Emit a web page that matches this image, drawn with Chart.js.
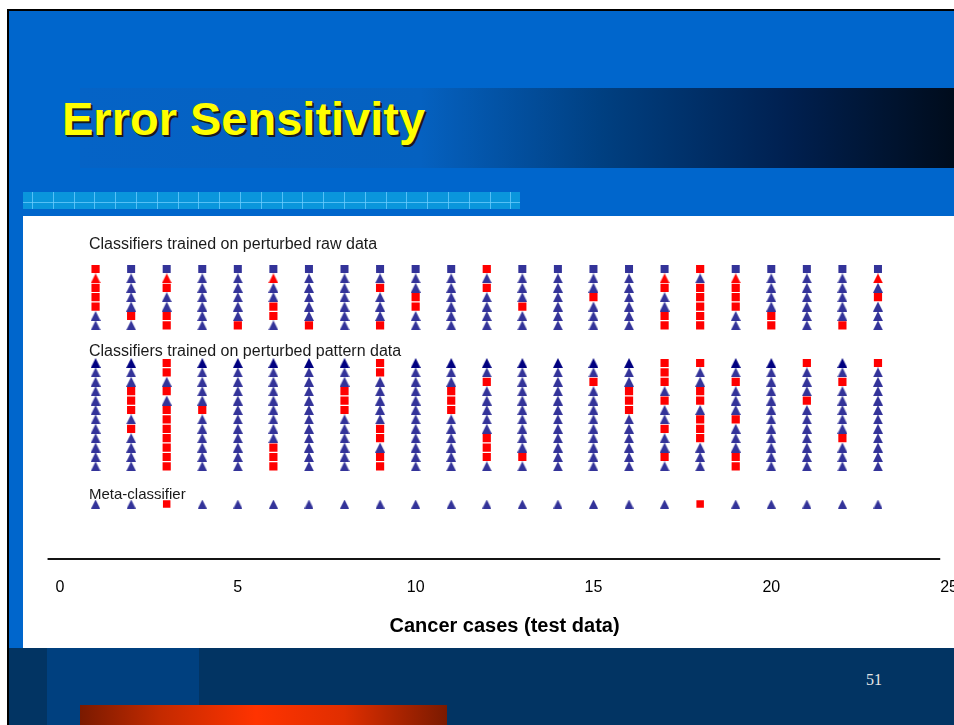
<!DOCTYPE html>
<html>
<head>
<meta charset="utf-8">
<title>Error Sensitivity</title>
<script src="https://cdn.jsdelivr.net/npm/chart.js@4.4.0/dist/chart.umd.min.js"></script>
<style>
  html, body { margin: 0; padding: 0; width: 954px; height: 725px; overflow: hidden; background: #fff; }
  body { position: relative; font-family: "Liberation Sans", Arial, sans-serif; }
  .abs { position: absolute; }
  #slideBg { left: 9px; top: 11px; width: 945px; height: 714px; background: #0066cc; }
  #borderLeft { left: 7px; top: 9px; width: 2px; height: 716px; background: #000; }
  #borderTop { left: 7px; top: 9px; width: 947px; height: 2px; background: #000; }
  #titleBand { left: 80px; top: 88px; width: 874px; height: 80px;
    background: linear-gradient(to right, #0563c6 0%, #0561c0 39%, #003f80 60%, #002050 81%, #000c1c 100%); }
  #title { left: 62px; top: 95px; margin: 0; font-size: 47px; line-height: 47px; font-weight: bold;
    color: #ffff00; text-shadow: 2px 2px 0 #1a1a1a, 1px 1px 0 #333; white-space: nowrap; }
  #strip { left: 23px; top: 192px; width: 497px; height: 17px;
    background:
      linear-gradient(to bottom, transparent 10px, rgba(110,205,255,0.75) 10px, rgba(110,205,255,0.75) 11px, transparent 11px),
      repeating-linear-gradient(to right, transparent 0 9px, rgba(110,205,255,0.75) 9px 10px, transparent 10px 20.8px),
      #0a96dc; }
  #panel { left: 23px; top: 216px; width: 931px; height: 432px; background: #fff; }
  #footDark { left: 9px; top: 648px; width: 945px; height: 77px; background: #023463; }
  #footLight { left: 47px; top: 648px; width: 152px; height: 77px; background: #00407f; }
  #footBar { left: 80px; top: 705px; width: 367px; height: 20px;
    background: linear-gradient(to right, #7a1a00 0%, #c42a00 22%, #ff3300 48%, #e02e00 72%, #7a1a00 100%); }
  #pageNo { left: 866px; top: 672px; font-family: "Liberation Serif", "Times New Roman", serif; font-size: 16px;
    line-height: 16px; color: #e6e6e6; }
  .rowLabel { color: #1a1a1a; white-space: nowrap; }
  #lblRaw { left: 89px; top: 235.5px; font-size: 16px; line-height: 16px; }
  #lblPattern { left: 89px; top: 343px; font-size: 16px; line-height: 16px; }
  #lblMeta { left: 89px; top: 485.6px; font-size: 15px; line-height: 15px; }
  #chart { position: absolute; left: 23px; top: 216px; }
</style>
</head>
<body>
<div id="slideBg" class="abs"></div>
<div id="titleBand" class="abs"></div>
<h1 id="title" class="abs">Error Sensitivity</h1>
<div id="strip" class="abs"></div>
<div id="panel" class="abs"></div>
<div id="footDark" class="abs"></div>
<div id="footLight" class="abs"></div>
<div id="footBar" class="abs"></div>
<div id="borderLeft" class="abs"></div>
<div id="borderTop" class="abs"></div>
<div id="pageNo" class="abs">51</div>

<canvas id="chart" width="954" height="432"></canvas>

<div id="lblRaw" class="abs rowLabel">Classifiers trained on perturbed raw data</div>
<div id="lblPattern" class="abs rowLabel">Classifiers trained on perturbed pattern data</div>
<div id="lblMeta" class="abs rowLabel">Meta-classifier</div>

<script>
// Test cases along the x axis
const caseNumbers = [1, 2, 3, 4, 5, 6, 7, 8, 9, 10, 11, 12, 13, 14, 15, 16, 17, 18, 19, 20, 21, 22, 23];
const xTickValues = [0, 5, 10, 15, 20, 25];

// Misclassified cases for each classifier trained on perturbed raw data (top row first)
const rawDataErrors = [
  [1, 12, 18],
  [1, 3, 6, 17, 19, 23],
  [1, 3, 9, 12, 17, 18, 19],
  [1, 10, 15, 18, 19, 23],
  [1, 6, 10, 13, 18, 19],
  [2, 3, 6, 17, 18, 20],
  [3, 5, 7, 9, 17, 18, 20, 22]
];

// Misclassified cases for each classifier trained on perturbed pattern data (top row first)
const patternDataErrors = [
  [3, 9, 17, 18, 21, 23],
  [3, 9, 17],
  [12, 15, 17, 19, 22],
  [2, 3, 8, 11, 16, 18],
  [2, 8, 11, 16, 17, 18, 21],
  [2, 3, 4, 8, 11, 16],
  [3, 18, 19],
  [2, 3, 9, 17, 18],
  [3, 9, 12, 18, 22],
  [3, 6, 12],
  [3, 6, 9, 12, 13, 17, 19],
  [3, 6, 9, 19]
];

// Misclassified cases for the meta-classifier
const metaErrors = [3, 18];

// Vertical placement of the three groups of rows
const RAW_TOP = 25;
const PATTERN_TOP = 15;
const META_ROW = 0;

const BLUE = '#333399';
const NAVY = '#000080';
const RED = '#ff0000';

function triangleMarker(color, w, h) {
  const c = document.createElement('canvas');
  c.width = w; c.height = h;
  const g = c.getContext('2d');
  g.fillStyle = color;
  g.beginPath();
  g.moveTo(w / 2, 0);
  g.lineTo(w, h);
  g.lineTo(0, h);
  g.closePath();
  g.fill();
  return c;
}

const triBlue = triangleMarker(BLUE, 10, 10);
const triNavy = triangleMarker(NAVY, 10, 10);
const triRed = triangleMarker(RED, 10, 10);
const triMeta = triangleMarker(BLUE, 9, 9);

// Collect the points of a set of rows, either the misclassified or the correct ones
function rowPoints(errorRows, topY, rowIndexes, wantErrors) {
  const pts = [];
  rowIndexes.forEach(r => {
    const errs = errorRows[r];
    caseNumbers.forEach(c => {
      if (errs.includes(c) === wantErrors) pts.push({ x: c, y: topY - r });
    });
  });
  return pts;
}

const rawAll = rawDataErrors.map((_, i) => i);
const patAll = patternDataErrors.map((_, i) => i);
const rawTriRows = rawAll.filter(i => i > 0);
const rawSquareErrRows = rawAll.filter(i => i !== 1);
const patRest = patAll.filter(i => i > 0);

const base = { showLine: false, borderWidth: 0 };

const datasets = [
  Object.assign({ label: 'raw errors (triangle)', data: rowPoints(rawDataErrors, RAW_TOP, [1], true),
    pointStyle: triRed, pointRadius: 5, backgroundColor: RED, borderColor: RED }, base),
  Object.assign({ label: 'raw errors', data: rowPoints(rawDataErrors, RAW_TOP, rawSquareErrRows, true),
    pointStyle: 'rect', pointRadius: 5.8, backgroundColor: RED, borderColor: RED }, base),
  Object.assign({ label: 'pattern errors', data: rowPoints(patternDataErrors, PATTERN_TOP, patAll, true),
    pointStyle: 'rect', pointRadius: 5.8, backgroundColor: RED, borderColor: RED }, base),
  Object.assign({ label: 'meta errors', data: metaErrors.map(c => ({ x: c, y: META_ROW })),
    pointStyle: 'rect', pointRadius: 5.3, backgroundColor: RED, borderColor: RED }, base),
  Object.assign({ label: 'raw correct (first)', data: rowPoints(rawDataErrors, RAW_TOP, [0], false),
    pointStyle: 'rect', pointRadius: 5.66, backgroundColor: BLUE, borderColor: BLUE }, base),
  Object.assign({ label: 'raw correct', data: rowPoints(rawDataErrors, RAW_TOP, rawTriRows, false),
    pointStyle: triBlue, pointRadius: 5, backgroundColor: BLUE, borderColor: BLUE }, base),
  Object.assign({ label: 'pattern correct (first)', data: rowPoints(patternDataErrors, PATTERN_TOP, [0], false),
    pointStyle: triNavy, pointRadius: 5, backgroundColor: NAVY, borderColor: NAVY }, base),
  Object.assign({ label: 'pattern correct', data: rowPoints(patternDataErrors, PATTERN_TOP, patRest, false),
    pointStyle: triBlue, pointRadius: 5, backgroundColor: BLUE, borderColor: BLUE }, base),
  Object.assign({ label: 'meta correct', data: caseNumbers.filter(c => !metaErrors.includes(c)).map(c => ({ x: c, y: META_ROW })),
    pointStyle: triMeta, pointRadius: 5, backgroundColor: BLUE, borderColor: BLUE }, base)
];

// Horizontal axis line, a little wider than the plotted range
const axisLine = {
  id: 'axisLine',
  afterDatasetsDraw(chart) {
    const { ctx, chartArea, scales } = chart;
    const x = scales.x;
    ctx.save();
    ctx.strokeStyle = '#141414';
    ctx.lineWidth = 2;
    ctx.beginPath();
    ctx.moveTo(x.getPixelForValue(-0.35), chartArea.bottom);
    ctx.lineTo(x.getPixelForValue(24.75), chartArea.bottom);
    ctx.stroke();
    ctx.restore();
  }
};

new Chart(document.getElementById('chart'), {
  type: 'scatter',
  data: { datasets },
  options: {
    responsive: false,
    animation: false,
    events: [],
    devicePixelRatio: 1,
    layout: { padding: { left: 37, right: 19, top: 43.6, bottom: 0 } },
    plugins: { legend: { display: false }, tooltip: { enabled: false } },
    scales: {
      x: {
        type: 'linear',
        min: 0,
        max: 25,
        grid: { display: false, drawTicks: false },
        border: { display: false },
        afterBuildTicks: s => { s.ticks = xTickValues.map(v => ({ value: v })); },
        afterFit: s => { s.height = 89; },
        ticks: {
          padding: 19,
          color: '#000',
          maxRotation: 0,
          autoSkip: false,
          font: { family: '"Liberation Sans", Arial, sans-serif', size: 16 }
        },
        title: {
          display: true,
          text: 'Cancer cases (test data)',
          color: '#000',
          padding: { top: 0, bottom: 10 },
          font: { family: '"Liberation Sans", Arial, sans-serif', size: 20, weight: 'bold' }
        }
      },
      y: { type: 'linear', display: false, min: -5.85, max: 26 }
    }
  },
  plugins: [axisLine]
});
</script>
</body>
</html>
